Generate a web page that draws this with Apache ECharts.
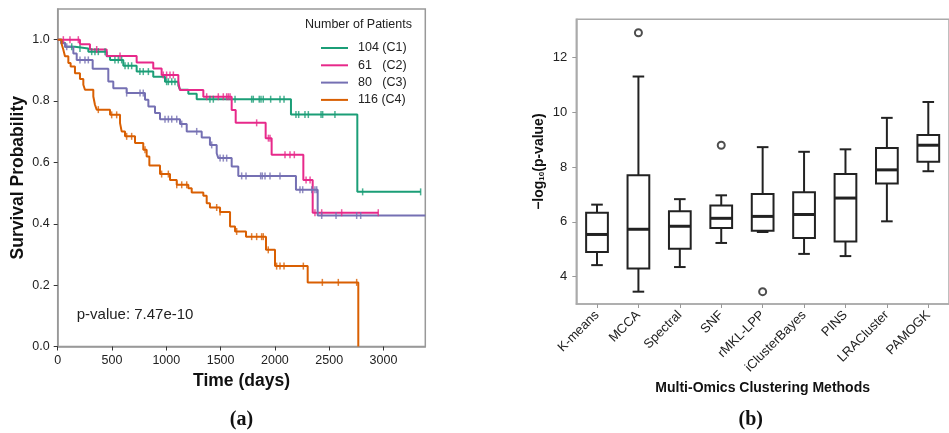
<!DOCTYPE html>
<html><head><meta charset="utf-8">
<script src="https://cdn.jsdelivr.net/npm/echarts@6/dist/echarts.min.js"></script>
<style>html,body{margin:0;padding:0;background:#fff}#c{width:949px;height:433px}</style>
</head><body><div id="c"></div><script>
// ---------- Panel (a): Kaplan-Meier data ----------
var clusterNames = ['104 (C1)', '61   (C2)', '80   (C3)', '116 (C4)'];
var clusterColors = ['#1b9e77', '#e7298a', '#7570b3', '#d95f02'];
var c1Times = [0, 40, 67, 159, 282, 451, 482, 604, 727, 880, 988, 1111, 1126, 1203, 1280, 2148, 2759, 3342];
var c1Surv  = [1, 0.99, 0.977, 0.971, 0.961, 0.946, 0.934, 0.915, 0.896, 0.879, 0.863, 0.850, 0.837, 0.824, 0.806, 0.756, 0.504, 0.504];
var c1Censor = [129, 205, 313, 343, 374, 436, 527, 558, 589, 620, 650, 681, 757, 788, 835, 1003, 1019, 1050, 1080, 1402, 1433, 1633, 1786, 1801, 1856, 1872, 1893, 1961, 2047, 2084, 2194, 2219, 2277, 2308, 2425, 2440, 2553, 2808, 3342];
var c2Times = [0, 205, 297, 451, 727, 880, 957, 1111, 1126, 1341, 1602, 1639, 1915, 1970, 2262, 2348, 2952];
var c2Surv  = [1, 0.985, 0.968, 0.947, 0.926, 0.906, 0.885, 0.86, 0.836, 0.814, 0.771, 0.729, 0.679, 0.625, 0.543, 0.436, 0.436];
var c2Censor = [52, 113, 190, 359, 574, 972, 1003, 1034, 1065, 1372, 1479, 1525, 1556, 1571, 1587, 1832, 1940, 1955, 2093, 2139, 2179, 2287, 2324, 2369, 2431, 2615, 2952];
var c3Times = [0, 30, 67, 144, 175, 322, 466, 512, 635, 804, 835, 896, 942, 1126, 1188, 1326, 1402, 1464, 1479, 1602, 1663, 2194, 2394, 3385];
var c3Surv  = [1, 0.988, 0.977, 0.955, 0.934, 0.905, 0.864, 0.842, 0.826, 0.804, 0.782, 0.761, 0.741, 0.725, 0.701, 0.681, 0.657, 0.630, 0.614, 0.587, 0.556, 0.511, 0.427, 0.427];
var c3Censor = [83, 205, 251, 282, 635, 758, 788, 988, 1019, 1050, 1096, 1142, 1280, 1418, 1495, 1525, 1556, 1694, 1734, 1869, 1884, 1909, 1955, 2047, 2231, 2256, 2339, 2369, 2385, 2431, 2563, 2753, 2790];
var c4Times = [0, 37, 52, 67, 98, 119, 159, 205, 236, 251, 328, 343, 359, 482, 574, 589, 620, 712, 788, 819, 844, 942, 1034, 1096, 1203, 1234, 1341, 1372, 1402, 1495, 1587, 1633, 1734, 1918, 2001, 2302, 2768];
var c4Surv  = [1, 0.985, 0.967, 0.946, 0.924, 0.913, 0.891, 0.872, 0.853, 0.837, 0.815, 0.788, 0.772, 0.755, 0.728, 0.701, 0.685, 0.663, 0.641, 0.619, 0.590, 0.562, 0.543, 0.527, 0.516, 0.502, 0.491, 0.467, 0.453, 0.438, 0.391, 0.375, 0.358, 0.315, 0.262, 0.209, 0];
var c4Censor = [374, 497, 543, 635, 681, 804, 957, 1019, 1096, 1142, 1188, 1464, 1495, 1648, 1786, 1832, 1878, 1893, 1939, 2016, 2047, 2084, 2262, 2437, 2584, 2753];
var timeTicks = [0, 500, 1000, 1500, 2000, 2500, 3000];
var survTicks = [0, 0.2, 0.4, 0.6, 0.8, 1.0];

// ---------- Panel (b): boxplot data ----------
var methods = ['K-means', 'MCCA', 'Spectral', 'SNF', 'rMKL-LPP', 'iClusterBayes', 'PINS', 'LRACluster', 'PAMOGK'];
var whiskerLow  = [4.42, 3.45, 4.35, 5.23, 5.63, 4.83, 4.75, 6.02, 7.85];
var q1          = [4.90, 4.30, 5.02, 5.78, 5.68, 5.41, 5.28, 7.40, 8.20];
var medians     = [5.54, 5.73, 5.84, 6.13, 6.20, 6.27, 6.87, 7.90, 8.80];
var q3          = [6.33, 7.70, 6.39, 6.60, 7.02, 7.08, 7.75, 8.70, 9.17];
var whiskerHigh = [6.63, 11.31, 6.83, 6.97, 8.73, 8.56, 8.65, 9.80, 10.38];
var outlierMethods = ['MCCA', 'SNF', 'rMKL-LPP'];
var outlierValues  = [12.91, 8.80, 3.45];
var logTicks = [4, 6, 8, 10, 12];

var FONT = '"Liberation Sans", Arial, sans-serif';
var kmSets = [[c1Times, c1Surv, c1Censor], [c2Times, c2Surv, c2Censor], [c3Times, c3Surv, c3Censor], [c4Times, c4Surv, c4Censor]];
function survAt(times, surv, t) {
  var s = surv[0];
  for (var i = 0; i < times.length; i++) { if (times[i] <= t) s = surv[i]; else break; }
  return s;
}
var series = [];
kmSets.forEach(function (set, k) {
  series.push({
    name: clusterNames[k], type: 'line', xAxisIndex: 0, yAxisIndex: 0, step: 'end',
    symbol: 'none', color: clusterColors[k], z: 3,
    lineStyle: { width: 2, color: clusterColors[k] },
    data: set[0].map(function (t, i) { return [t, set[1][i]]; })
  });
});
kmSets.forEach(function (set, k) {
  series.push({
    name: 'censor' + k, type: 'scatter', xAxisIndex: 0, yAxisIndex: 0, z: 4,
    symbol: 'rect', symbolSize: [1.5, 7], itemStyle: { color: clusterColors[k] },
    data: set[2].map(function (t) { return [t, survAt(set[0], set[1], t)]; })
  });
});
series.push({
  type: 'custom', xAxisIndex: 1, yAxisIndex: 1, z: 5,
  encode: { x: 0, y: [1, 2, 3, 4, 5] },
  data: methods.map(function (m, i) { return [i, whiskerLow[i], q1[i], medians[i], q3[i], whiskerHigh[i]]; }),
  renderItem: function (params, api) {
    var x = api.value(0);
    var lo = api.coord([x, api.value(1)]), b1 = api.coord([x, api.value(2)]), md = api.coord([x, api.value(3)]),
        b3 = api.coord([x, api.value(4)]), hi = api.coord([x, api.value(5)]);
    var band = api.size([1, 0])[0];
    var bw = band * 0.525, cw = band * 0.28, cx = lo[0];
    var st = { stroke: '#222', lineWidth: 2, fill: null };
    return { type: 'group', children: [
      { type: 'line', shape: { x1: cx, y1: hi[1], x2: cx, y2: b3[1] }, style: st },
      { type: 'line', shape: { x1: cx, y1: b1[1], x2: cx, y2: lo[1] }, style: st },
      { type: 'line', shape: { x1: cx - cw / 2, y1: hi[1], x2: cx + cw / 2, y2: hi[1] }, style: st },
      { type: 'line', shape: { x1: cx - cw / 2, y1: lo[1], x2: cx + cw / 2, y2: lo[1] }, style: st },
      { type: 'rect', shape: { x: cx - bw / 2, y: b3[1], width: bw, height: b1[1] - b3[1] }, style: { stroke: '#222', lineWidth: 2, fill: '#fff' } },
      { type: 'line', shape: { x1: cx - bw / 2, y1: md[1], x2: cx + bw / 2, y2: md[1] }, style: { stroke: '#222', lineWidth: 3 } }
    ] };
  }
});
series.push({
  type: 'scatter', xAxisIndex: 1, yAxisIndex: 1, z: 6, symbol: 'circle', symbolSize: 7,
  itemStyle: { color: '#fff', borderColor: '#222', borderWidth: 2 },
  data: outlierMethods.map(function (m, i) { return [m, outlierValues[i]]; })
});

var chart = echarts.init(document.getElementById('c'), null, { renderer: 'canvas' });
chart.setOption({
  animation: false,
  textStyle: { fontFamily: FONT },
  legend: {
    data: clusterNames, orient: 'vertical', left: 316, top: 36.5, itemWidth: 27, itemHeight: 14, itemGap: 4.3,
    icon: 'path://M0,6 L27,6 L27,8 L0,8 Z',
    textStyle: { fontSize: 12.5, color: '#222', fontFamily: FONT, padding: [0, 0, 0, 5] }
  },
  grid: [
    { left: 57.7, top: 9, width: 367.6, height: 337.5, show: true, borderColor: '#999', borderWidth: 1.5, backgroundColor: 'transparent' },
    { left: 576.3, top: 19.3, width: 382.2, height: 284.7, show: true, borderColor: '#aaa', borderWidth: 1.5, backgroundColor: 'transparent' }
  ],
  xAxis: [
    { type: 'value', gridIndex: 0, min: 0, max: 3385, splitLine: { show: false },
      axisLine: { show: true, lineStyle: { color: '#999', width: 1.5 } },
      axisTick: { show: true, length: 4, lineStyle: { color: '#333' }, customValues: timeTicks },
      axisLabel: { customValues: timeTicks, fontSize: 12.5, color: '#222', margin: 8, fontFamily: FONT,
        formatter: function (v) { return String(v); } },
      name: 'Time (days)', nameLocation: 'middle', nameGap: 24,
      nameTextStyle: { fontWeight: 'bold', fontSize: 17.5, color: '#111', fontFamily: FONT } },
    { type: 'category', gridIndex: 1, data: methods, boundaryGap: true,
      axisLine: { show: true, lineStyle: { color: '#aaa', width: 1.5 } },
      axisTick: { show: true, alignWithLabel: true, length: 4, lineStyle: { color: '#999' } },
      axisLabel: { rotate: 45, fontSize: 13, color: '#222', margin: 9, interval: 0, fontFamily: FONT },
      name: 'Multi-Omics Clustering Methods', nameLocation: 'middle', nameGap: 73,
      nameTextStyle: { fontWeight: 'bold', fontSize: 14, color: '#111', fontFamily: FONT } }
  ],
  yAxis: [
    { type: 'value', gridIndex: 0, min: 0, max: 1.1, splitLine: { show: false },
      axisLine: { show: true, lineStyle: { color: '#999', width: 1.5 } },
      axisTick: { show: true, length: 4, lineStyle: { color: '#333' }, customValues: survTicks },
      axisLabel: { customValues: survTicks, fontSize: 12.5, color: '#222', margin: 8, fontFamily: FONT,
        formatter: function (v) { return v.toFixed(1); } },
      name: 'Survival Probability', nameLocation: 'middle', nameGap: 31,
      nameTextStyle: { fontWeight: 'bold', fontSize: 17.5, color: '#111', fontFamily: FONT } },
    { type: 'value', gridIndex: 1, min: 3, max: 13.4, splitLine: { show: false },
      axisLine: { show: true, lineStyle: { color: '#aaa', width: 1.5 } },
      axisTick: { show: true, length: 4, lineStyle: { color: '#999' }, customValues: logTicks },
      axisLabel: { customValues: logTicks, fontSize: 13, color: '#222', margin: 9, fontFamily: FONT },
      name: '{m|\u2212log}{s|10}{m|(p-value)}', nameLocation: 'middle', nameGap: 26,
      nameTextStyle: { fontWeight: 'bold', fontSize: 14, color: '#111', fontFamily: FONT,
        rich: {
          m: { fontSize: 14, fontWeight: 'bold', color: '#111', fontFamily: FONT, lineHeight: 20, verticalAlign: 'middle' },
          s: { fontSize: 8, fontWeight: 'bold', color: '#111', fontFamily: FONT, lineHeight: 20, verticalAlign: 'bottom', padding: [0, 0, 3, 0] }
        } } }
  ],
  graphic: [
    { type: 'text', x: 305, y: 25, z: 10, style: { text: 'Number of Patients', font: '12.5px ' + FONT, fill: '#222', align: 'left', verticalAlign: 'middle' } },
    { type: 'text', x: 76.7, y: 315, z: 10, style: { text: 'p-value: 7.47e-10', font: '15px ' + FONT, fill: '#222', align: 'left', verticalAlign: 'middle' } },
    { type: 'text', x: 241.5, y: 420, z: 10, style: { text: '(a)', font: 'bold 20px "Liberation Serif", "Times New Roman", serif', fill: '#111', align: 'center', verticalAlign: 'middle' } },
    { type: 'text', x: 750.7, y: 420, z: 10, style: { text: '(b)', font: 'bold 20px "Liberation Serif", "Times New Roman", serif', fill: '#111', align: 'center', verticalAlign: 'middle' } }
  ],
  series: series
});
</script></body></html>
